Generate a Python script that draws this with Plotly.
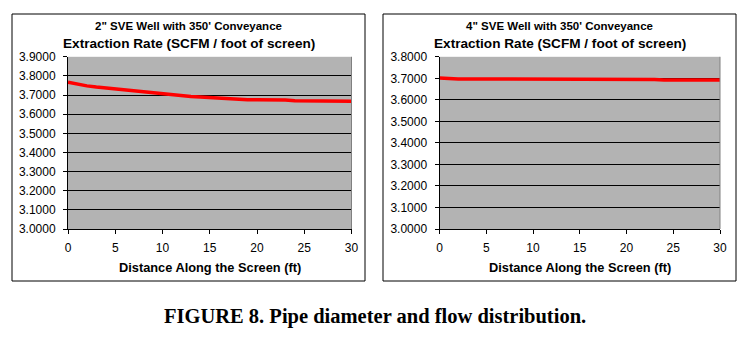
import plotly.graph_objects as go

# ---- data ----
distance_ft = list(range(0, 31))
rate_2in = [3.767, 3.757, 3.748, 3.742, 3.737, 3.731, 3.725, 3.720, 3.716, 3.710,
            3.705, 3.701, 3.697, 3.693, 3.690, 3.687, 3.683, 3.680, 3.676, 3.675,
            3.675, 3.675, 3.675, 3.674, 3.670, 3.669, 3.669, 3.669, 3.669, 3.668,
            3.668]
rate_4in = [3.701, 3.698, 3.697, 3.697, 3.697, 3.697, 3.697, 3.696, 3.695, 3.695,
            3.695, 3.695, 3.695, 3.695, 3.695, 3.695, 3.695, 3.695, 3.695, 3.695,
            3.695, 3.695, 3.695, 3.694, 3.692, 3.692, 3.692, 3.692, 3.692, 3.692,
            3.692]
titles_top = ["2\" SVE Well with 350' Conveyance", "4\" SVE Well with 350' Conveyance"]
title_main = "Extraction Rate (SCFM / foot of screen)"
x_title = "Distance Along the Screen (ft)"
caption = "FIGURE 8. Pipe diameter and flow distribution."
y_ranges = [[3.0, 3.9], [3.0, 3.8]]

W, H = 753, 362
OFF = 8  # page body margin
SANS = "Liberation Sans, Arial, sans-serif"

def px(x):
    return (x - OFF) / W

def py(y):
    return 1 - (y - OFF) / H

fig = go.Figure()
fig.add_trace(go.Scatter(x=distance_ft, y=rate_2in, mode="lines",
                         line=dict(color="#FF0000", width=3.5),
                         xaxis="x", yaxis="y", showlegend=False))
fig.add_trace(go.Scatter(x=distance_ft, y=rate_4in, mode="lines",
                         line=dict(color="#FF0000", width=3.5),
                         xaxis="x2", yaxis="y2", showlegend=False))

plot_x = [(68, 351.5), (439.5, 720)]
plot_y = (56.8, 229)
boxes = [(12, 365), (383, 736)]

axis_common = dict(showline=True, linecolor="black", linewidth=1,
                   ticks="outside", tickcolor="black", ticklen=4, tickwidth=1,
                   tickfont=dict(family=SANS, size=12, color="black"),
                   zeroline=False, automargin=False)

fig.update_layout(
    template="none",
    width=W, height=H,
    margin=dict(l=0, r=0, t=0, b=0, pad=0),
    paper_bgcolor="white",
    plot_bgcolor="#B3B3B3",
    xaxis=dict(domain=[px(plot_x[0][0]), px(plot_x[0][1])], range=[0, 30], dtick=5,
               showgrid=False, anchor="y", ticklabelstandoff=4, **axis_common),
    yaxis=dict(domain=[py(plot_y[1]), py(plot_y[0])], range=y_ranges[0], dtick=0.1,
               tickformat=".4f", showgrid=True, gridcolor="black", gridwidth=1,
               anchor="x", ticklabelstandoff=5, **axis_common),
    xaxis2=dict(domain=[px(plot_x[1][0]), px(plot_x[1][1])], range=[0, 30], dtick=5,
                showgrid=False, anchor="y2", ticklabelstandoff=4, **axis_common),
    yaxis2=dict(domain=[py(plot_y[1]), py(plot_y[0])], range=y_ranges[1], dtick=0.1,
                tickformat=".4f", showgrid=True, gridcolor="black", gridwidth=1,
                anchor="x2", ticklabelstandoff=5, **axis_common),
)

shapes = []
annotations = []
for i in range(2):
    bx0, bx1 = boxes[i]
    shapes.append(dict(type="rect", xref="paper", yref="paper",
                       x0=px(bx0), x1=px(bx1), y0=py(281), y1=py(14),
                       line=dict(color="black", width=1), fillcolor="rgba(0,0,0,0)"))
    # right border of plot area
    shapes.append(dict(type="line", xref="paper", yref="paper",
                       x0=px(plot_x[i][1]), x1=px(plot_x[i][1]),
                       y0=py(plot_y[1]), y1=py(plot_y[0]),
                       line=dict(color="#808080", width=1)))
    cx = px((bx0 + bx1) / 2)
    annotations.append(dict(text="<b>" + titles_top[i] + "</b>", x=cx, y=py(26),
                            xref="paper", yref="paper", showarrow=False,
                            font=dict(family=SANS, size=11.5, color="black"),
                            xanchor="center", yanchor="middle"))
    annotations.append(dict(text="<b>" + title_main + "</b>", x=cx, y=py(43),
                            xref="paper", yref="paper", showarrow=False,
                            font=dict(family=SANS, size=13.6, color="black"),
                            xanchor="center", yanchor="middle"))
    pcx = px((plot_x[i][0] + plot_x[i][1]) / 2)
    annotations.append(dict(text="<b>" + x_title + "</b>", x=pcx, y=py(267),
                            xref="paper", yref="paper", showarrow=False,
                            font=dict(family=SANS, size=12.8, color="black"),
                            xanchor="center", yanchor="middle"))

annotations.append(dict(text="<b>" + caption + "</b>", x=px(375), y=py(316),
                        xref="paper", yref="paper", showarrow=False,
                        font=dict(family="Liberation Serif, Times New Roman, serif",
                                  size=20.5, color="black"),
                        xanchor="center", yanchor="middle"))

fig.update_layout(shapes=shapes, annotations=annotations)
fig.write_html("out.html")
